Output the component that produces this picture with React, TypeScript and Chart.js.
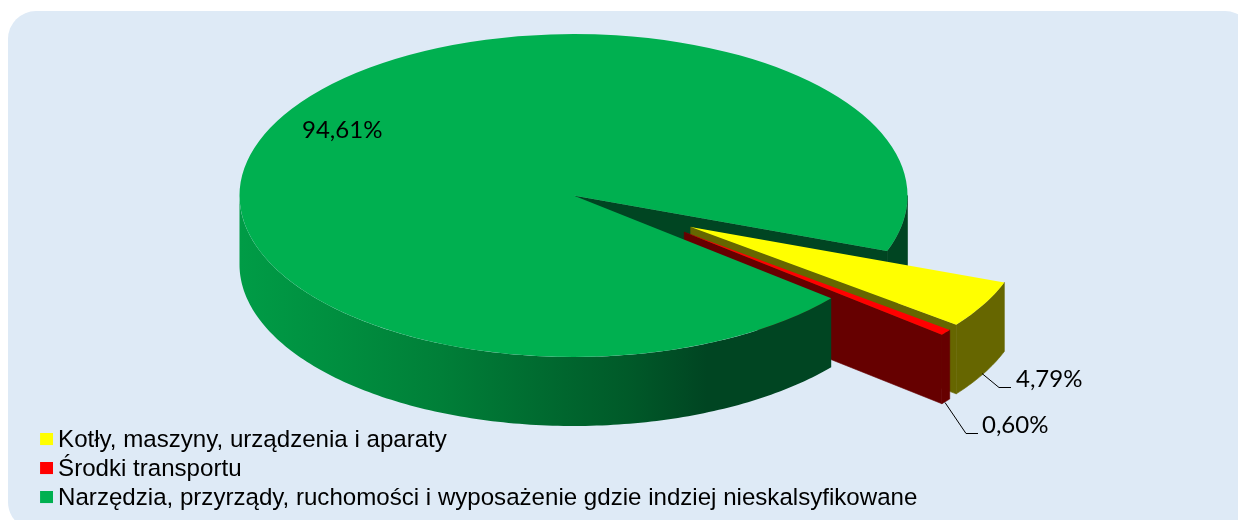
import React, { useEffect, useRef } from "react";
import { Chart, registerables } from "chart.js";

Chart.register(...registerables);

const categories = [
  "Kotły, maszyny, urządzenia i aparaty",
  "Środki transportu",
  "Narzędzia, przyrządy, ruchomości i wyposażenie gdzie indziej nieskalsyfikowane",
];
const shares = [4.79, 0.6, 94.61];
const topColors = ["#FFFF00", "#FF0000", "#00B050"];
const wallColors = ["#666600", "#660000", "#004522"];
const explodeDistance = [134, 134, 0];
const explodeBearingDeg = [29, 34.3, 0];
const labelAnchors = [
  { x: 1016, y: 379 },
  { x: 982, y: 425 },
  { x: 302, y: 130 },
];
const leaderLines = [
  [[982, 373], [999, 387], [1011, 387]],
  [[945, 402], [966, 433], [978, 433]],
  [],
];

const PIE_CX = 573.5;
const PIE_CY = 195.5;
const PIE_RADIUS = 334;
const SQUASH = 0.4835;
const DEPTH = 69;
const TAU = Math.PI * 2;

function formatShare(v: number) {
  return v.toFixed(2).replace(".", ",") + "%";
}

function legendSwatch(color: string) {
  const c = document.createElement("canvas");
  c.width = 14;
  c.height = 14;
  const g = c.getContext("2d")!;
  g.fillStyle = color;
  g.fillRect(1, 0, 13, 12);
  return c;
}

const pie3d = {
  id: "pie3d",
  afterLayout(chart: any) {
    const l = chart.legend;
    l.right = chart.width;
    l.width = l.right - l.left;
    l.draw = function () {
      this._draw();
    };
  },
  afterDatasetsUpdate(chart: any) {
    chart.getDatasetMeta(0).data.forEach((arc: any, i: number) => {
      const b = (explodeBearingDeg[i] * Math.PI) / 180;
      arc.x += Math.cos(b) * explodeDistance[i];
      arc.y += Math.sin(b) * explodeDistance[i];
    });
  },
  beforeDatasetsDraw(chart: any) {
    const { ctx, chartArea } = chart;
    const c0x = (chartArea.left + chartArea.right) / 2;
    const c0y = (chartArea.top + chartArea.bottom) / 2;
    const sx = (x: number) => x - c0x + PIE_CX;
    const sy = (y: number) => (y - c0y) * SQUASH + PIE_CY;
    const arcs = chart.getDatasetMeta(0).data;

    const paint = (fill: any, seam: boolean) => {
      ctx.fillStyle = fill;
      ctx.fill();
      if (seam) {
        ctx.strokeStyle = fill;
        ctx.lineWidth = 0.6;
        ctx.stroke();
      }
    };

    const outerWall = (arc: any, a0: number, a1: number, fill: any, seam: boolean) => {
      const n = Math.max(2, Math.ceil((a1 - a0) * 60));
      const px = (a: number) => sx(arc.x + Math.cos(a) * arc.outerRadius);
      const py = (a: number) => sy(arc.y + Math.sin(a) * arc.outerRadius);
      ctx.beginPath();
      for (let i = 0; i <= n; i++) {
        const a = a0 + ((a1 - a0) * i) / n;
        if (i === 0) ctx.moveTo(px(a), py(a));
        else ctx.lineTo(px(a), py(a));
      }
      for (let i = n; i >= 0; i--) {
        const a = a0 + ((a1 - a0) * i) / n;
        ctx.lineTo(px(a), py(a) + DEPTH);
      }
      ctx.closePath();
      paint(fill, seam);
    };

    const edgeWall = (arc: any, a: number, fill: any) => {
      const ex = sx(arc.x + Math.cos(a) * arc.outerRadius);
      const ey = sy(arc.y + Math.sin(a) * arc.outerRadius);
      ctx.beginPath();
      ctx.moveTo(sx(arc.x), sy(arc.y));
      ctx.lineTo(ex, ey);
      ctx.lineTo(ex, ey + DEPTH);
      ctx.lineTo(sx(arc.x), sy(arc.y) + DEPTH);
      ctx.closePath();
      paint(fill, true);
    };

    ctx.save();
    const big = arcs[2];
    // far side of the large slice first: its cut face and right-hand rim
    edgeWall(big, big.endAngle, wallColors[2]);
    outerWall(big, TAU, big.endAngle, wallColors[2], true);
    // detached slices
    [0, 1].forEach((i) => {
      const arc = arcs[i];
      edgeWall(arc, arc.endAngle, wallColors[i]);
      outerWall(arc, arc.startAngle, arc.endAngle, wallColors[i], true);
    });
    // front rim of the large slice, shaded
    const grad = ctx.createLinearGradient(240, 0, 907, 0);
    grad.addColorStop(0, "#009C46");
    grad.addColorStop(0.15, "#008E3F");
    grad.addColorStop(0.3, "#007F38");
    grad.addColorStop(0.45, "#006B30");
    grad.addColorStop(0.58, "#005A29");
    grad.addColorStop(0.7, "#004522");
    grad.addColorStop(1, "#004522");
    outerWall(big, big.startAngle, Math.PI, grad, false);
    ctx.restore();

    ctx.save();
    ctx.translate(PIE_CX, PIE_CY);
    ctx.scale(1, SQUASH);
    ctx.translate(-c0x, -c0y);
  },
  afterDatasetsDraw(chart: any) {
    const { ctx } = chart;
    ctx.restore();
    ctx.save();
    ctx.fillStyle = "#000000";
    ctx.strokeStyle = "#000000";
    ctx.lineWidth = 1;
    ctx.font = "24px Lato";
    ctx.textBaseline = "middle";
    ctx.textAlign = "left";
    shares.forEach((v, i) => {
      ctx.fillText(formatShare(v), labelAnchors[i].x, labelAnchors[i].y);
      const line = leaderLines[i];
      if (line.length) {
        ctx.beginPath();
        line.forEach((p, j) => (j === 0 ? ctx.moveTo(p[0], p[1] + 0.5) : ctx.lineTo(p[0], p[1] + 0.5)));
        ctx.stroke();
      }
    });
    ctx.restore();
  },
};

export default function App() {
  const ref = useRef<HTMLCanvasElement>(null);
  useEffect(() => {
    const chart = new Chart(ref.current!, {
      type: "pie",
      data: {
        labels: categories,
        datasets: [
          {
            data: shares,
            backgroundColor: topColors,
            borderWidth: 0,
            clip: false,
          } as any,
        ],
      },
      options: {
        animation: false,
        responsive: false,
        events: [],
        rotation: 110.1,
        radius: PIE_RADIUS,
        layout: { padding: { left: 41.1, bottom: 5, top: 0, right: 0 } },
        plugins: {
          tooltip: { enabled: false },
          legend: {
            position: "left",
            align: "end",
            labels: {
              usePointStyle: true,
              pointStyleWidth: 0.01,
              boxHeight: 12,
              padding: 4.9,
              color: "#000000",
              font: { family: "'Liberation Sans'", size: 24.1 },
              generateLabels: (c: any) =>
                c.data.labels.map((text: string, i: number) => ({
                  text,
                  fillStyle: topColors[i],
                  strokeStyle: topColors[i],
                  lineWidth: 0,
                  pointStyle: legendSwatch(topColors[i]),
                  index: i,
                })),
            },
          },
        },
      } as any,
      plugins: [pie3d],
    });
    return () => chart.destroy();
  }, []);
  return (
    <div style={{ position: "fixed", left: 0, top: 0, width: 1238, height: 520, background: "#fff", overflow: "hidden" }}>
      <div
        style={{
          position: "absolute",
          left: 8,
          top: 11,
          width: 1245,
          height: 519,
          borderRadius: 28,
          background: "#DEEAF6",
        }}
      />
      <canvas ref={ref} width={1238} height={520} style={{ position: "absolute", left: 0, top: 0, display: "block" }} />
    </div>
  );
}
